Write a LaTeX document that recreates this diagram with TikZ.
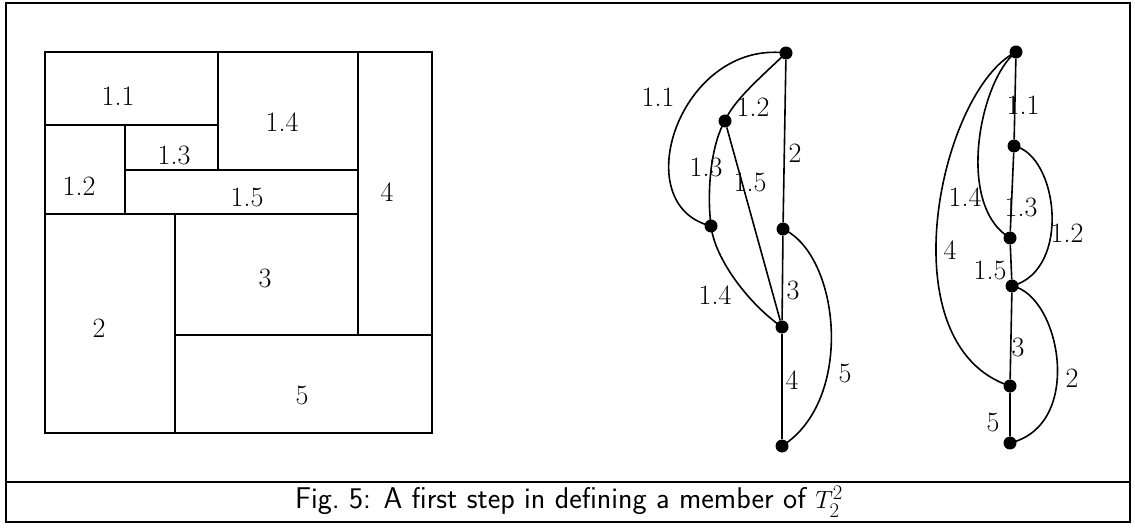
\documentclass[tikz,border=0pt]{standalone}
\usepackage{fontspec}
\usepackage{amsmath,amssymb}
\usepackage{tikz}
\usetikzlibrary{positioning,calc}

\tikzset{
  vertex/.style={circle,fill=black,inner sep=0pt,minimum size=13pt},
  lab/.style={font=\fontsize{28}{32}\selectfont,inner sep=1pt},
  gline/.style={line width=1.6pt},
}

\begin{document}
\begin{tikzpicture}[x=1pt,y=-1pt]
  \useasboundingbox (0,0) rectangle (1135,529);
  \draw[gline] (6,3) rectangle (1130,522);
  \draw[gline] (6,482) -- (1130,482);

  \begin{scope}[line width=1.8pt]
    \draw (45,52) rectangle (432,433);
    \draw (45,125) -- (218,125);
    \draw (218,52) -- (218,170);
    \draw (125,125) -- (125,214);
    \draw (125,170) -- (358,170);
    \draw (358,52) -- (358,335);
    \draw (45,214) -- (358,214);
    \draw (175,214) -- (175,433);
    \draw (175,335) -- (432,335);
  \end{scope}
  \node[lab] (p11) at (118,96) {1.1};
  \node[lab] (p14) at (282,122) {1.4};
  \node[lab] (p13) at (174,155) {1.3};
  \node[lab] (p12) at (79,186) {1.2};
  \node[lab] (p15) at (247,197) {1.5};
  \node[lab] (p4) at (387,192) {4};
  \node[lab] (p3) at (265,278) {3};
  \node[lab] (p2) at (99,328) {2};
  \node[lab] (p5) at (302,395) {5};

  \node[vertex] (ma) at (786,53) {};
  \node[vertex] (mb) at (725,121) {};
  \node[vertex] (mc) at (711,226) {};
  \node[vertex] (md) at (783,229) {};
  \node[vertex] (me) at (782,327) {};
  \node[vertex] (mf) at (782,446) {};
  \draw[gline] (ma.center) .. controls (680,40) and (625,205) .. (mc.center);
  \draw[gline] (ma.center) .. controls (761,77) and (733,101) .. (mb.center);
  \draw[gline] (ma) -- (md);
  \draw[gline] (mb.center) .. controls (713,140) and (706,185) .. (mc.center);
  \draw[gline] (mb) -- (me);
  \draw[gline] (mc.center) .. controls (715,260) and (750,305) .. (me.center);
  \draw[gline] (md) -- (me);
  \draw[gline] (me) -- (mf);
  \draw[gline] (md.center) .. controls (840,255) and (855,400) .. (mf.center);
  \node[lab] (m11) at (658,97) {1.1};
  \node[lab] (m12) at (753,107) {1.2};
  \node[lab] (m2) at (795,153) {2};
  \node[lab] (m13) at (706,167) {1.3};
  \node[lab] (m15) at (750,182) {1.5};
  \node[lab] (m14) at (715,295) {1.4};
  \node[lab] (m3) at (793,290) {3};
  \node[lab] (m4) at (792,380) {4};
  \node[lab] (m5) at (845,373) {5};

  \node[vertex] (ra) at (1016,52) {};
  \node[vertex] (rb) at (1014,146) {};
  \node[vertex] (rc) at (1010,238) {};
  \node[vertex] (rd) at (1012,286) {};
  \node[vertex] (re) at (1010,386) {};
  \node[vertex] (rf) at (1010,443) {};
  \draw[gline] (ra) -- (rb) -- (rc) -- (rd) -- (re) -- (rf);
  \draw[gline] (ra.center) .. controls (980,80) and (955,205) .. (rc.center);
  \draw[gline] (rb.center) .. controls (1058,155) and (1072,270) .. (rd.center);
  \draw[gline] (ra.center) .. controls (940,90) and (885,345) .. (re.center);
  \draw[gline] (rd.center) .. controls (1060,295) and (1085,425) .. (rf.center);
  \node[lab] (r11) at (1023,105) {1.1};
  \node[lab] (r14) at (965,197) {1.4};
  \node[lab] (r13) at (1021,207) {1.3};
  \node[lab] (r12) at (1067,233) {1.2};
  \node[lab] (r4) at (950,250) {4};
  \node[lab] (r15) at (990,270) {1.5};
  \node[lab] (r3) at (1018,347) {3};
  \node[lab] (r2) at (1072,378) {2};
  \node[lab] (r5) at (993,422) {5};

  \node[font=\fontsize{30}{34}\sffamily] (cap) at (569,502) {Fig.~5: A first step in defining a member of $T_2^2$};
\end{tikzpicture}
\end{document}
